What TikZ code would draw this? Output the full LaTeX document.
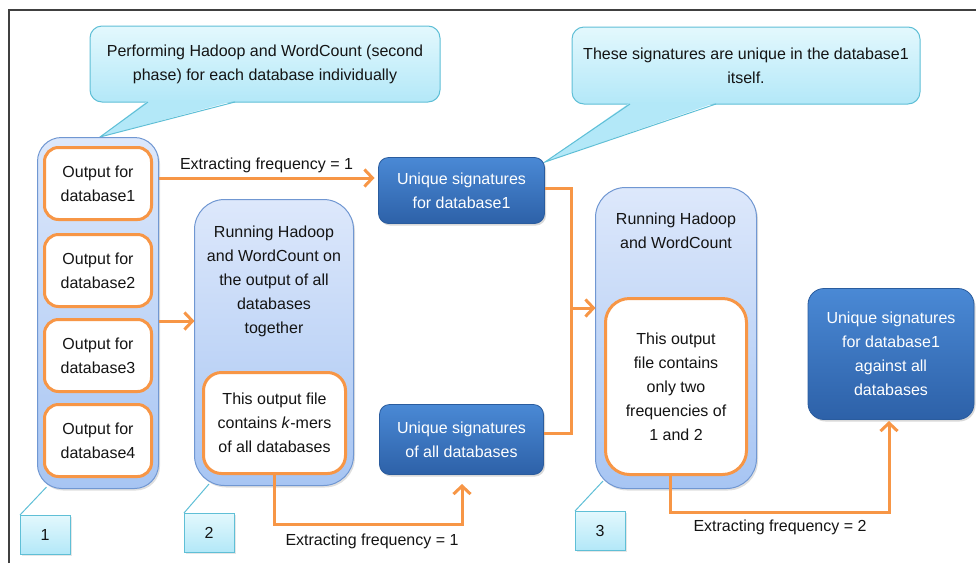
\documentclass[tikz,border=0pt]{standalone}
\usepackage{fontspec}
\setmainfont{Liberation Sans}
\usetikzlibrary{arrows.meta,shadows}
\definecolor{org}{HTML}{F79646}
\definecolor{contTop}{HTML}{DDE8FB}
\definecolor{contBot}{HTML}{A7C5F3}
\definecolor{contBd}{HTML}{7097D2}
\definecolor{darkTop}{HTML}{4A89D5}
\definecolor{darkBot}{HTML}{2D61A8}
\definecolor{darkBd}{HTML}{2A5C9E}
\definecolor{callTop}{HTML}{E3F8FD}
\definecolor{callBot}{HTML}{B3E8F8}
\definecolor{callBd}{HTML}{5FBFD6}
\definecolor{frameC}{HTML}{404040}
\begin{document}
\begin{tikzpicture}[x=1pt,y=-1pt,
  every node/.style={font=\fontsize{16}{24}\selectfont, align=center, inner sep=0pt, outer sep=0pt},
  txt/.style={text=black!92},
  outbox/.style={draw=org, line width=3pt, fill=white, rounded corners=14pt},
  contbox/.style={draw=contBd, line width=1pt, top color=contTop, bottom color=contBot, rounded corners=24pt,
    drop shadow={opacity=0.25, shadow xshift=1.5pt, shadow yshift=-2pt}},
  darkbox/.style={draw=darkBd, line width=0.8pt, top color=darkTop, bottom color=darkBot, rounded corners=10pt, text=white,
    drop shadow={opacity=0.3, shadow xshift=1.5pt, shadow yshift=-2pt}},
  callbox/.style={draw=callBd, line width=1pt, top color=callTop, bottom color=callBot, rounded corners=12pt, text=black!92},
  numbox/.style={draw=callBd, line width=1pt, top color=callTop, bottom color=callBot, text=black!92,
    minimum width=50pt, minimum height=39pt, drop shadow={opacity=0.2, shadow xshift=1.5pt, shadow yshift=-2pt}},
  conn/.style={draw=org, line width=3pt},
  arr/.style={conn, -{Straight Barb[length=8pt,width=17pt,line width=3pt]}},
  tail/.style={draw=callBd, line width=1pt},
]
\useasboundingbox (0,0) rectangle (976,563);
% frame
\draw[frameC, line width=1.5pt] (9,563) -- (9,10) -- (976,10);

% callouts
\node[callbox, minimum width=350pt, minimum height=76pt] (call1) at (265,64) {Performing Hadoop and WordCount (second\\phase) for each database individually};
\coordinate (tip1) at (100,137);
\fill[callBot] (tip1) -- (148,100.6) -- (235,100.6) -- cycle;
\draw[tail] (148,102) -- (tip1) -- (235,102);

\node[callbox, minimum width=348pt, minimum height=77pt] (call2) at (746,65.5) {These signatures are unique in the database1\\itself.};
\coordinate (tip2) at (545,162);
\fill[callBot] (tip2) -- (630,102.6) -- (716,102.6) -- cycle;
\draw[tail] (630,104) -- (tip2) -- (716,104);

% group 1
\node[contbox, minimum width=121pt, minimum height=351pt] (g1) at (98,313) {};
\node[outbox, minimum width=107pt, minimum height=72pt, txt] (o1) at (98,183.5) {Output for\\database1};
\node[outbox, minimum width=107pt, minimum height=72pt, txt] (o2) at (98,270.5) {Output for\\database2};
\node[outbox, minimum width=107pt, minimum height=72pt, txt] (o3) at (98,355.5) {Output for\\database3};
\node[outbox, minimum width=107pt, minimum height=72pt, txt] (o4) at (98,440.5) {Output for\\database4};

% group 2
\node[contbox, minimum width=159pt, minimum height=286pt, rounded corners=30pt] (g2) at (274,342.5) {};
\node[txt] (t2) at (274,281) {Running Hadoop\\and WordCount on\\the output of all\\databases\\together};
\node[outbox, minimum width=142pt, minimum height=101pt, rounded corners=18pt, txt] (in2) at (274.5,423) {This output file\\contains \textit{k}-mers\\of all databases};

% group 3
\node[contbox, minimum width=161pt, minimum height=301pt, rounded corners=30pt] (g3) at (676,338) {};
\node[txt] (t3) at (676,231) {Running Hadoop\\and WordCount};
\node[outbox, minimum width=141pt, minimum height=176pt, rounded corners=24pt, txt] (in3) at (676,386.5) {This output\\file contains\\only two\\frequencies of\\1 and 2};

% dark boxes
\node[darkbox, minimum width=166pt, minimum height=66pt] (u1) at (461.5,190.5) {Unique signatures\\for database1};
\node[darkbox, minimum width=164pt, minimum height=70pt] (u2) at (461.5,439.5) {Unique signatures\\of all databases};
\node[darkbox, minimum width=166pt, minimum height=131pt, rounded corners=16pt] (fin) at (891,354) {Unique signatures\\for database1\\against all\\databases};

% number labels
\node[numbox] (n1) at (45,534.5) {1};
\node[numbox] (n2) at (209,532.5) {2};
\node[numbox] (n3) at (600,530.5) {3};
\coordinate (g1c) at (46.5,487);
\coordinate (g2c) at (209,484);
\coordinate (g3c) at (603,481);
\draw[tail] (n1.north west) -- (g1c);
\draw[tail] (n2.north west) -- (g2c);
\draw[tail] (n3.north west) -- (g3c);

% connectors
\coordinate (y1) at (0,178);
\draw[arr] (g1.east |- y1) -- node[above=5pt, txt] (lab1) {Extracting frequency = 1} ([xshift=-4pt]u1.west |- y1);
\coordinate (y2) at (0,321);
\draw[arr] (g1.east |- y2) -- (g2.west |- y2);

\coordinate (j) at (571,308);
\coordinate (ya) at (0,188);
\coordinate (yb) at (0,433);
\draw[conn] (u1.east |- ya) -| (j);
\draw[conn] (u2.east |- yb) -| (j);
\draw[arr] (j) -- (g3.west |- j);

\coordinate (e1) at (462,484);
\coordinate (yc) at (0,524);
\draw[arr] (in2.south) -- (in2.south |- yc) -| (e1);
\node[txt] (lab2) at (372,541) {Extracting frequency = 1};

\coordinate (s3) at (670,476);
\coordinate (c3) at (670,512);
\coordinate (e3) at (889,421);
\draw[arr] (s3) -- (c3) -| (e3);
\node[txt] (lab3) at (780,527) {Extracting frequency = 2};
\end{tikzpicture}
\end{document}
